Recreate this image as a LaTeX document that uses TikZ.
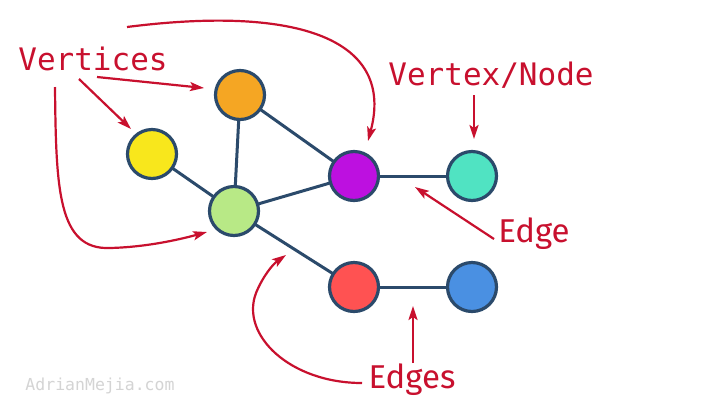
\documentclass[tikz,border=0pt]{standalone}
\usepackage{fontspec}
\setmainfont{DejaVu Sans Mono}
\newfontfamily\edgefont{Fira Sans}
\usetikzlibrary{arrows.meta}
\definecolor{navy}{HTML}{2B4A6B}
\definecolor{lblred}{HTML}{C8102E}
\definecolor{cOrange}{HTML}{F5A623}
\definecolor{cYellow}{HTML}{F8E71C}
\definecolor{cGreen}{HTML}{B8E986}
\definecolor{cPurple}{HTML}{BD10E0}
\definecolor{cTeal}{HTML}{50E3C2}
\definecolor{cRed}{HTML}{FF5252}
\definecolor{cBlue}{HTML}{4A90E2}
\definecolor{wmgray}{HTML}{D4D4D4}
\tikzset{
  vert/.style={circle, draw=navy, line width=3.2pt, minimum size=49pt, inner sep=0pt},
  edgeline/.style={draw=navy, line width=3pt},
  callout/.style={draw=lblred, line width=2.2pt, -{Stealth[length=14pt,width=9pt,inset=3pt]}},
  monolbl/.style={text=lblred, font=\fontsize{31}{34}\selectfont, inner sep=0pt},
  sanslbl/.style={text=lblred, font=\edgefont\fontsize{33}{36}\selectfont, inner sep=0pt},
}
\begin{document}
\begin{tikzpicture}[x=1pt,y=-1pt]
\useasboundingbox[fill=white] (0,0) rectangle (722,416);
% edges
\coordinate (pO) at (240,95);
\coordinate (pY) at (152,154);
\coordinate (pG) at (234,211);
\coordinate (pP) at (354,176);
\coordinate (pT) at (472,176);
\coordinate (pR) at (354,287);
\coordinate (pB) at (472,287);
\draw[edgeline] (pY) -- (pG);
\draw[edgeline] (pO) -- (pG);
\draw[edgeline] (pO) -- (pP);
\draw[edgeline] (pG) -- (pP);
\draw[edgeline] (pP) -- (pT);
\draw[edgeline] (pG) -- (pR);
\draw[edgeline] (pR) -- (pB);
% vertices
\node[vert, fill=cOrange] (orange) at (pO) {};
\node[vert, fill=cYellow] (yellow) at (pY) {};
\node[vert, fill=cGreen] (green) at (pG) {};
\node[vert, fill=cPurple] (purple) at (pP) {};
\node[vert, fill=cTeal] (teal) at (pT) {};
\node[vert, fill=cRed] (red) at (pR) {};
\node[vert, fill=cBlue] (blue) at (pB) {};
% labels
\node[monolbl] (vertices) at (93,59) {Vertices};
\node[monolbl] (vnode) at (491,75) {Vertex/Node};
\node[sanslbl] (edge) at (534,234) {Edge};
\node[sanslbl] (edges) at (412,380) {Edges};
\node[text=wmgray, font=\fontsize{16.5}{18}\selectfont, inner sep=0pt] (wm) at (100,386) {AdrianMejia.com};
% arrow coordinates
\coordinate (a1s) at (97,77);   \coordinate (a1e) at (204,88);
\coordinate (a2s) at (79,79);   \coordinate (a2e) at (131,129);
\coordinate (a3s) at (55,87);   \coordinate (a3e) at (207,232);
\coordinate (a4s) at (127,27);  \coordinate (a4e) at (368,141);
\coordinate (a5s) at (474,95);  \coordinate (a5e) at (474,139);
\coordinate (a6s) at (494,239); \coordinate (a6e) at (415,187);
\coordinate (a7s) at (413,363); \coordinate (a7e) at (413,306);
\coordinate (a8s) at (362,383); \coordinate (a8e) at (286,255);
\draw[callout] (a1s) -- (a1e);
\draw[callout] (a2s) -- (a2e);
\draw[callout] (a3s) .. controls (56,190) and (58,250) .. (110,248) .. controls (150,247) and (185,238) .. (a3e);
\draw[callout] (a4s) .. controls (300,5) and (395,40) .. (a4e);
\draw[callout] (a5s) -- (a5e);
\draw[callout] (a6s) -- (a6e);
\draw[callout] (a7s) -- (a7e);
\draw[callout] (a8s) .. controls (290,383) and (240,335) .. (256,293) .. controls (263,276) and (273,264) .. (a8e);
\end{tikzpicture}
\end{document}
